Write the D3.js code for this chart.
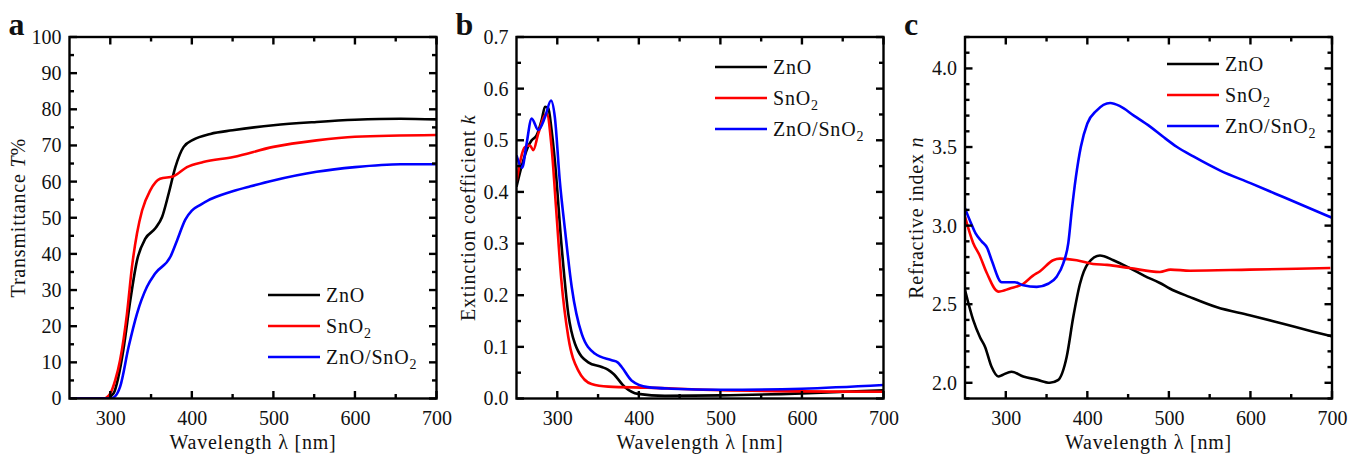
<!DOCTYPE html>
<html>
<head>
<meta charset="utf-8">
<script src="https://cdn.jsdelivr.net/npm/d3@7"></script>
<style>
  body { margin: 0; background: #fff; }
  svg text { font-family: "Liberation Serif", "Times New Roman", serif; fill: #111; }
</style>
</head>
<body>
<svg id="fig" width="1360" height="459"></svg>
<script>
// ---- data ----
// (a) transmittance T%
const transZnO = [[250,0],[294,0],[304,1.4],[310,6],[316,13.4],[324.6,27.2],[332.8,38.2],[343,44.2],[355,47],[363.5,50.2],[371.6,56.7],[379.8,64],[390,69.6],[402,71.6],[422.8,73.2],[450,74.2],[500,75.6],[553,76.5],[600,77.1],[656,77.4],[700,77.2]];
const transSnO2 = [[250,0],[292,0],[300,1.4],[306,5],[312,10.6],[320.5,23.5],[326.6,36.4],[332.8,45.7],[339,52],[349,57.6],[361,60.8],[377.8,61.5],[394,64],[414,65.4],[451,66.8],[500,69.6],[553,71.4],[600,72.4],[700,72.9]];
const transMix = [[250,0],[300,0],[305,0.4],[312,3.2],[322.5,14.3],[332.8,23.5],[345,30.9],[355,34.6],[373.7,39.2],[382,43.8],[392,49.5],[400,52],[410,53.5],[420,54.8],[435,56.2],[451,57.4],[472,58.7],[500,60.3],[553,62.7],[600,64],[656,64.8],[700,64.8]];

// (b) extinction coefficient k
const extZnO = [[250,0.41],[256,0.448],[264,0.487],[268.6,0.5],[274.8,0.51],[281,0.54],[285,0.565],[289,0.562],[293,0.52],[297,0.461],[305.4,0.293],[313.5,0.164],[321.7,0.106],[338,0.07],[354.5,0.061],[362,0.056],[368.7,0.048],[383,0.022],[399,0.009],[432,0.005],[500,0.006],[600,0.01],[700,0.016]];
const extSnO2 = [[250,0.42],[260.4,0.487],[266.5,0.49],[270.6,0.481],[276.7,0.513],[287,0.552],[293,0.487],[299,0.358],[305,0.229],[313.5,0.119],[325.8,0.054],[342,0.028],[362.6,0.023],[411,0.021],[500,0.016],[700,0.013]];
const extMix = [[250,0.471],[257,0.447],[262,0.49],[268.6,0.542],[276.7,0.52],[285,0.545],[292.3,0.577],[297,0.545],[303,0.423],[309.5,0.326],[317.7,0.216],[330,0.125],[346,0.087],[366.7,0.074],[374,0.07],[379,0.061],[391,0.035],[411,0.022],[440,0.019],[500,0.017],[600,0.019],[700,0.026]];

// (c) refractive index n
const refZnO = [[250,2.59],[260,2.40],[268.4,2.29],[274.5,2.23],[282.7,2.10],[290.8,2.04],[296,2.05],[307,2.07],[321.5,2.04],[338,2.02],[354,2.0],[364,2.017],[374.7,2.166],[382.8,2.42],[391,2.63],[401,2.76],[415.5,2.81],[432,2.78],[452,2.73],[470,2.68],[489,2.635],[501,2.60],[526,2.545],[559,2.48],[599,2.43],[640,2.375],[677,2.325],[700,2.295]];
const refSnO2 = [[250,3.056],[260,2.89],[268,2.81],[276.6,2.70],[290.8,2.58],[305,2.60],[321.5,2.63],[333,2.68],[342,2.71],[358,2.78],[366.5,2.79],[387,2.78],[407,2.756],[424,2.75],[452,2.73],[489,2.705],[502,2.72],[526,2.713],[599,2.72],[698,2.73]];
const refMix = [[250,3.11],[257,3.02],[263,2.95],[270.4,2.90],[277,2.86],[282.7,2.78],[295,2.64],[311,2.64],[321.5,2.62],[338,2.61],[352,2.63],[362.4,2.675],[370.5,2.76],[376.7,2.89],[381,3.1],[386,3.31],[392,3.50],[400,3.65],[411,3.73],[428,3.78],[440,3.76],[457,3.70],[477,3.63],[493,3.565],[510,3.50],[530,3.44],[563,3.35],[600,3.27],[641,3.18],[700,3.05]];

const seriesNames = ["ZnO", "SnO2", "ZnO/SnO2"];
const seriesColors = ["#000000", "#ff0000", "#0000ff"];

const xTicks = [300, 400, 500, 600, 700];
const xMinor = [350, 450, 550, 650];
const panels = [
  { letter: "a", left: 69.5, data: [transZnO, transSnO2, transMix], yDomain: [0, 100],
    yTicks: d3.range(0, 101, 10), yMinor: d3.range(5, 100, 10), fmt: d => d,
    title: ["Transmittance ", "T", "%"], titleX: 25, legend: [326, 295] },
  { letter: "b", left: 516.5, data: [extZnO, extSnO2, extMix], yDomain: [0, 0.7],
    yTicks: d3.range(0, 8).map(i => i / 10), yMinor: d3.range(0, 7).map(i => i / 10 + 0.05), fmt: d3.format(".1f"),
    title: ["Extinction coefficient ", "k", ""], titleX: 475, legend: [773, 67] },
  { letter: "c", left: 965, data: [refZnO, refSnO2, refMix], yDomain: [1.9, 4.2],
    yTicks: [2.0, 2.5, 3.0, 3.5, 4.0], yMinor: d3.range(19, 43).map(i => i / 10).filter(v => Math.round(v * 10) % 5 !== 0), fmt: d3.format(".1f"),
    title: ["Refractive index ", "n", ""], titleX: 923, legend: [1225, 64] }
];

const svg = d3.select("#fig");
const plotTop = 37, plotBottom = 398.5, plotW = 367;
const majorLen = 7.5, minorLen = 4.5;

panels.forEach(p => {
  const x = d3.scaleLinear().domain([250, 700]).range([p.left, p.left + plotW]);
  const y = d3.scaleLinear().domain(p.yDomain).range([plotBottom, plotTop]);
  const right = p.left + plotW;
  const g = svg.append("g");

  // curves
  const line = d3.line().x(d => x(d[0])).y(d => y(d[1])).curve(d3.curveMonotoneX);
  g.append("defs").append("clipPath").attr("id", "clip-" + p.letter)
    .append("rect").attr("x", p.left).attr("y", plotTop).attr("width", plotW).attr("height", plotBottom - plotTop);
  p.data.forEach((s, i) => {
    g.append("path").datum(s).attr("d", line)
      .attr("clip-path", `url(#clip-${p.letter})`)
      .attr("fill", "none").attr("stroke", seriesColors[i]).attr("stroke-width", 2.6)
      .attr("stroke-linejoin", "round");
  });

  // tick labels via d3 axes (tick lines drawn below as inward marks)
  g.append("g").attr("transform", `translate(0,${plotBottom})`)
    .call(d3.axisBottom(x).tickValues(xTicks).tickSize(0).tickPadding(12));
  g.append("g").attr("transform", `translate(${p.left},0)`)
    .call(d3.axisLeft(y).tickValues(p.yTicks).tickSize(0).tickPadding(8).tickFormat(p.fmt));
  g.selectAll(".domain").remove();
  g.selectAll(".tick line").remove();
  g.selectAll(".tick text").attr("font-size", 20).attr("font-family", "Liberation Serif").attr("fill", "#111");

  // inward tick marks on all four sides
  const tk = g.append("g").attr("stroke", "#000").attr("stroke-width", 2.4);
  const xAll = xTicks.map(v => [v, majorLen]).concat(xMinor.map(v => [v, minorLen]));
  const yAll = p.yTicks.map(v => [v, majorLen]).concat(p.yMinor.map(v => [v, minorLen]));
  tk.selectAll(".xb").data(xAll).join("line")
    .attr("x1", d => x(d[0])).attr("x2", d => x(d[0])).attr("y1", plotBottom).attr("y2", d => plotBottom - d[1]);
  tk.selectAll(".xt").data(xAll).join("line")
    .attr("x1", d => x(d[0])).attr("x2", d => x(d[0])).attr("y1", plotTop).attr("y2", d => plotTop + d[1]);
  tk.selectAll(".yl").data(yAll).join("line")
    .attr("y1", d => y(d[0])).attr("y2", d => y(d[0])).attr("x1", p.left).attr("x2", d => p.left + d[1]);
  tk.selectAll(".yr").data(yAll).join("line")
    .attr("y1", d => y(d[0])).attr("y2", d => y(d[0])).attr("x1", right).attr("x2", d => right - d[1]);

  g.append("rect").attr("x", p.left).attr("y", plotTop).attr("width", plotW).attr("height", plotBottom - plotTop)
    .attr("fill", "none").attr("stroke", "#000").attr("stroke-width", 2.4);

  // axis titles
  g.append("text").attr("x", p.left + plotW / 2).attr("y", 449).attr("text-anchor", "middle")
    .attr("font-size", 20).attr("letter-spacing", 0.8).text("Wavelength λ [nm]");
  const yt = g.append("text").attr("transform", `translate(${p.titleX},${(plotTop + plotBottom) / 2}) rotate(-90)`)
    .attr("text-anchor", "middle").attr("font-size", 20).attr("letter-spacing", 0.8);
  yt.append("tspan").text(p.title[0]);
  yt.append("tspan").attr("font-style", "italic").text(p.title[1]);
  if (p.title[2]) yt.append("tspan").text(p.title[2]);

  // panel letter
  g.append("text").attr("x", p.left - 61).attr("y", 35).attr("font-size", 32).attr("font-weight", "bold").text(p.letter);

  // legend
  seriesNames.forEach((name, i) => {
    const ly = p.legend[1] + i * 31;
    g.append("line").attr("x1", p.legend[0] - 58).attr("x2", p.legend[0] - 6).attr("y1", ly).attr("y2", ly)
      .attr("stroke", seriesColors[i]).attr("stroke-width", 2.6);
    const t = g.append("text").attr("x", p.legend[0]).attr("y", ly + 7).attr("font-size", 20).attr("letter-spacing", 0.8);
    if (name.endsWith("2")) {
      t.append("tspan").text(name.slice(0, -1));
      t.append("tspan").attr("dy", 5).attr("font-size", 14).text("2");
    } else {
      t.text(name);
    }
  });
});
</script>
</body>
</html>
